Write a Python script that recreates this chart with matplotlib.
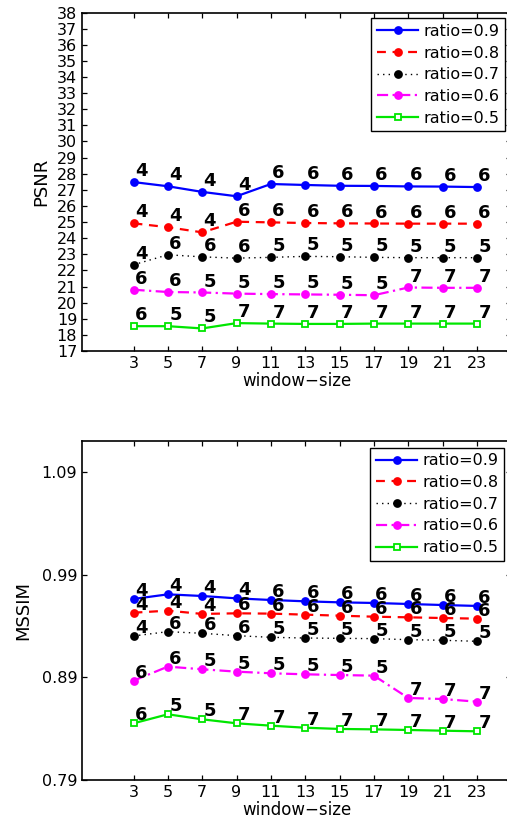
import matplotlib
matplotlib.use("Agg")
import matplotlib.pyplot as plt

plt.rcParams['font.family'] = ['DejaVu Sans']

window_size = [3, 5, 7, 9, 11, 13, 15, 17, 19, 21, 23]
ratios = ["ratio=0.9", "ratio=0.8", "ratio=0.7", "ratio=0.6", "ratio=0.5"]

psnr_09 = [27.48, 27.22, 26.87, 26.6, 27.36, 27.3, 27.25, 27.24, 27.21, 27.2, 27.17]
psnr_08 = [24.92, 24.68, 24.36, 25.02, 24.98, 24.94, 24.92, 24.91, 24.9, 24.9, 24.9]
psnr_07 = [22.35, 22.97, 22.84, 22.76, 22.81, 22.87, 22.85, 22.81, 22.79, 22.79, 22.79]
psnr_06 = [20.8, 20.66, 20.63, 20.56, 20.53, 20.51, 20.49, 20.46, 20.94, 20.92, 20.92]
psnr_05 = [18.54, 18.54, 18.4, 18.73, 18.7, 18.68, 18.68, 18.7, 18.7, 18.7, 18.7]

mssim_09 = [0.9666, 0.9711, 0.9695, 0.9672, 0.9656, 0.9643, 0.9633, 0.9627, 0.9617, 0.9607, 0.9598]
mssim_08 = [0.9532, 0.9552, 0.952, 0.9526, 0.9523, 0.9513, 0.9503, 0.9493, 0.9487, 0.948, 0.9474]
mssim_07 = [0.9305, 0.9347, 0.9331, 0.9308, 0.9292, 0.9285, 0.9282, 0.9279, 0.9269, 0.9263, 0.9253]
mssim_06 = [0.8869, 0.9006, 0.898, 0.8957, 0.8941, 0.8931, 0.8924, 0.8918, 0.87, 0.869, 0.8664]
mssim_05 = [0.8453, 0.8541, 0.8492, 0.8453, 0.843, 0.841, 0.8398, 0.8394, 0.8388, 0.8381, 0.8375]

# best parameter label shown above every point (same for both metrics)
best_09 = [4, 4, 4, 4, 6, 6, 6, 6, 6, 6, 6]
best_08 = [4, 4, 4, 6, 6, 6, 6, 6, 6, 6, 6]
best_07 = [4, 6, 6, 6, 5, 5, 5, 5, 5, 5, 5]
best_06 = [6, 6, 5, 5, 5, 5, 5, 5, 7, 7, 7]
best_05 = [6, 5, 5, 7, 7, 7, 7, 7, 7, 7, 7]

psnr_ticks = list(range(17, 39))
mssim_ticks = [0.79, 0.89, 0.99, 1.09]

styles = [
    dict(color='#0000ff', ls='-', marker='o', mfc='#0000ff'),
    dict(color='#ff0000', ls=(0, (4, 3)), marker='o', mfc='#ff0000'),
    dict(color='#000000', ls=(0, (1, 3)), marker='o', mfc='#000000', lw=1.0),
    dict(color='#ff00ff', ls=(0, (5, 2, 1, 2)), marker='o', mfc='#ff00ff'),
    dict(color='#00e600', ls='-', marker='s', mfc='white'),
]

W, H = 507, 825
fig = plt.figure(figsize=(W / 100, H / 100), dpi=100)


def make_panel(rect, series, ylim, yticks, ylabel, label_x, txt_dy, legend_anchor, yfmt):
    ax = fig.add_axes(rect)
    for vals, best, name, st in zip(series, [best_09, best_08, best_07, best_06, best_05], ratios, styles):
        st = dict(st)
        lw = st.pop('lw', 1.6)
        ms = 4.2 if st['marker'] == 's' else 5
        ax.plot(window_size, vals, lw=lw, ms=ms, mec=st['color'], mew=1.3,
                label=name, **st)
        for x, y, b in zip(window_size, vals, best):
            ax.annotate(str(b), (x, y), xytext=(1.0, txt_dy), textcoords='offset points',
                        ha='left', va='baseline', fontsize=13, fontweight='bold')
    ax.set_xlim(0, 25)
    ax.set_ylim(*ylim)
    ax.set_xticks(window_size)
    ax.set_yticks(yticks)
    ax.set_yticklabels([yfmt.format(t) for t in yticks])
    ax.tick_params(direction='in', length=3.6, width=0.9, top=True, right=True,
                   labelsize=11.5, pad=3.5)
    for sp in ax.spines.values():
        sp.set_linewidth(1.2)
    ax.set_xlabel('window−size', fontsize=12, labelpad=1)
    ax.set_ylabel(ylabel, fontsize=13)
    ax.yaxis.set_label_coords(label_x, 0.5)
    leg = ax.legend(loc='upper right', bbox_to_anchor=legend_anchor,
                    bbox_transform=fig.transFigure, borderaxespad=0, fancybox=False,
                    edgecolor='black', fontsize=11.5, handlelength=2.6,
                    handletextpad=0.3, labelspacing=0.42, borderpad=0.35, framealpha=1)
    leg.get_frame().set_linewidth(1.0)
    return ax


ax_w = (511.3 - 82) / W
make_panel([82 / W, 1 - 351 / H, ax_w, (351 - 12.5) / H],
           [psnr_09, psnr_08, psnr_07, psnr_06, psnr_05],
           (17, 38), psnr_ticks, 'PSNR', -0.0745, 4.3,
           (505 / W, 1 - 18.3 / H), '{:d}')
make_panel([82 / W, 1 - 780 / H, ax_w, (780 - 441.3) / H],
           [mssim_09, mssim_08, mssim_07, mssim_06, mssim_05],
           (0.79, 1.1204), mssim_ticks, 'MSSIM', -0.1165, 2.2,
           (504 / W, 1 - 447.7 / H), '{:.2f}')

fig.savefig('out.png', dpi=100)
